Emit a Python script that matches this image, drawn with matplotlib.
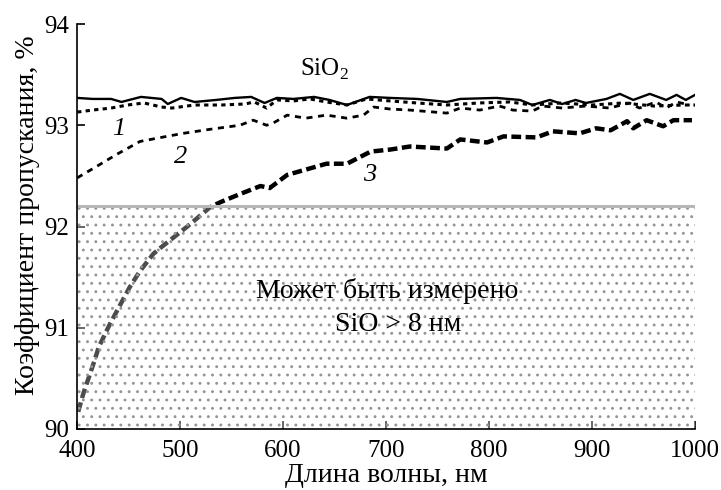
import matplotlib.pyplot as plt

plt.rcParams["font.family"] = ["Liberation Serif", "DejaVu Serif"]
plt.rcParams["mathtext.fontset"] = "custom"
plt.rcParams["mathtext.rm"] = "Liberation Serif"
plt.rcParams["hatch.linewidth"] = 0.9

# SiO2 reference curve
wl_sio2 = [400, 415, 433, 443, 462, 482, 488, 501, 514, 535, 553, 569, 582, 594, 610, 630,
           645, 662, 684, 704, 730, 759, 772, 807, 830, 842, 859, 871, 884, 894, 914, 927,
           940, 956, 972, 982, 991, 1000]
t_sio2 = [93.27, 93.26, 93.26, 93.23, 93.28, 93.26, 93.21, 93.27, 93.23, 93.25, 93.27, 93.28,
          93.22, 93.27, 93.26, 93.28, 93.25, 93.20, 93.28, 93.27, 93.26, 93.23, 93.26, 93.27,
          93.25, 93.20, 93.25, 93.21, 93.25, 93.22, 93.26, 93.31, 93.25, 93.31, 93.25, 93.30,
          93.25, 93.30]

# curve 1
wl1 = [400, 415, 433, 449, 465, 482, 492, 514, 540, 563, 572, 584, 594, 610, 626, 642, 662,
       681, 704, 730, 759, 790, 820, 842, 870, 900, 930, 960, 990, 1000]
t1 = [93.13, 93.15, 93.17, 93.20, 93.22, 93.18, 93.17, 93.20, 93.20, 93.21, 93.23, 93.17,
      93.25, 93.24, 93.26, 93.23, 93.20, 93.26, 93.24, 93.22, 93.20, 93.22, 93.23, 93.20,
      93.22, 93.20, 93.22, 93.19, 93.20, 93.20]

# curve 2
wl2 = [400, 420, 438, 461, 487, 503, 529, 558, 571, 584, 590, 604, 622, 642, 662, 678, 688,
       704, 723, 759, 772, 791, 810, 823, 842, 852, 871, 894, 917, 936, 946, 962, 972, 982, 995]
t2 = [92.48, 92.60, 92.71, 92.84, 92.89, 92.92, 92.96, 93.00, 93.05, 93.00, 93.02, 93.10,
      93.07, 93.10, 93.07, 93.10, 93.18, 93.16, 93.15, 93.12, 93.17, 93.15, 93.19, 93.15,
      93.14, 93.19, 93.17, 93.19, 93.17, 93.22, 93.17, 93.23, 93.17, 93.23, 93.20]

# curve 3
wl3 = [401, 406, 411, 417, 421, 432, 442, 451, 461, 474, 481, 507, 529, 539, 558, 578, 587,
       604, 642, 662, 685, 704, 723, 759, 772, 798, 814, 846, 862, 888, 904, 918, 934, 940,
       953, 969, 979, 997]
t3 = [90.17, 90.35, 90.50, 90.68, 90.81, 91.04, 91.23, 91.40, 91.56, 91.73, 91.79, 92.00,
      92.19, 92.24, 92.32, 92.40, 92.38, 92.51, 92.62, 92.62, 92.74, 92.76, 92.79, 92.77,
      92.86, 92.83, 92.89, 92.88, 92.94, 92.92, 92.97, 92.95, 93.04, 92.97, 93.05, 92.99,
      93.05, 93.05]

# measurable region
region_x = [400, 1000]
region_lo = 90.0
region_hi = 92.2

fig = plt.figure(figsize=(7.21, 4.90), dpi=100)
ax = fig.add_axes([0.107, 0.1245, 0.857, 0.8265])

ax.plot(wl_sio2, t_sio2, color="black", lw=1.7, zorder=1)
ax.plot(wl1, t1, color="black", lw=2.2, dashes=(1.4, 1.4), zorder=1)
ax.plot(wl2, t2, color="black", lw=2.0, dashes=(2.2, 2.0), zorder=1)
ax.plot(wl3, t3, color="black", lw=3.2, dashes=(2.2, 1.0), zorder=1)

ax.fill_between(region_x, region_lo, region_hi, facecolor=(1, 1, 1, 0.3),
                hatch="..", edgecolor="#959595", linewidth=0, zorder=2)
ax.axhline(region_hi, color="#b8b8b8", lw=2.2, zorder=2)

ax.text(640, 93.55, "SiO$_2$", fontsize=18, ha="center", va="center", zorder=3)
ax.text(440, 92.96, "1", fontsize=19, style="italic", ha="center", va="center", zorder=3)
ax.text(500, 92.69, "2", fontsize=19, style="italic", ha="center", va="center", zorder=3)
ax.text(684, 92.51, "3", fontsize=19, style="italic", ha="center", va="center", zorder=3)
ax.text(701, 91.36, "Может быть измерено", fontsize=20, ha="center", va="center", zorder=3)
ax.text(712, 91.03, "SiO > 8 нм", fontsize=20, ha="center", va="center", zorder=3)

ax.set_xlim(400, 1000)
ax.set_ylim(90, 94)
ax.set_xticks([400, 500, 600, 700, 800, 900, 1000])
ax.set_yticks([90, 91, 92, 93, 94])
ax.tick_params(direction="in", length=6, width=1.2, labelsize=18)
ax.tick_params(axis="x", pad=8)
ax.tick_params(axis="y", pad=6)
ax.spines["top"].set_visible(False)
ax.spines["right"].set_visible(False)
ax.spines["left"].set_linewidth(1.2)
ax.spines["bottom"].set_linewidth(1.2)
ax.set_xlabel("Длина волны, нм", fontsize=20, labelpad=1)
ax.set_ylabel("Коэффициент пропускания, %", fontsize=20)
ax.yaxis.set_label_coords(-0.06, 0.528)

fig.savefig("out.png", dpi=100)
